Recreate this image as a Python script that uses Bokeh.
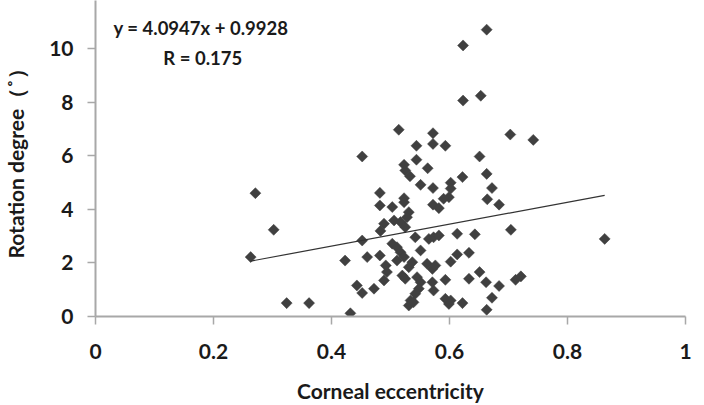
import numpy as np
from bokeh.plotting import figure
from bokeh.models import ColumnDataSource, FixedTicker, Label, Range1d
from bokeh.embed import file_html
from bokeh.resources import INLINE

# Corneal eccentricity vs. rotation degree
ecc = [
    0.263, 0.271, 0.302, 0.324, 0.362, 0.423, 0.432, 0.443, 0.452, 0.452,
    0.452, 0.4605, 0.472,
    0.663, 0.623, 0.623, 0.653, 0.514, 0.572, 0.572, 0.593, 0.544, 0.703,
    0.742, 0.651, 0.544, 0.523, 0.525, 0.533, 0.563, 0.622, 0.663, 0.551,
    0.572, 0.602, 0.602, 0.599, 0.482, 0.672, 0.523, 0.482, 0.503, 0.531,
    0.572, 0.582, 0.590, 0.664, 0.684, 0.523,
    0.489, 0.506, 0.517, 0.528, 0.525, 0.483, 0.542, 0.565, 0.573, 0.582,
    0.613, 0.643, 0.704, 0.863,
    0.503, 0.511, 0.517, 0.523, 0.482, 0.551, 0.602, 0.613, 0.633,
    0.492, 0.494, 0.489, 0.511, 0.537, 0.531, 0.562, 0.571, 0.520, 0.525,
    0.545, 0.551, 0.548, 0.542, 0.571, 0.573, 0.576, 0.593, 0.633, 0.651,
    0.662, 0.684, 0.712, 0.721,
    0.534, 0.531, 0.593, 0.602, 0.599, 0.622, 0.672, 0.663, 0.539,
]
rotation = [
    2.22, 4.61, 3.24, 0.50, 0.50, 2.09, 0.12, 1.16, 0.88, 2.84,
    5.98, 2.22, 1.04,
    10.72, 10.13, 8.07, 8.25, 6.98, 6.85, 6.45, 6.38, 6.38, 6.80,
    6.60, 5.98, 5.86, 5.67, 5.46, 5.24, 5.54, 5.21, 5.33, 4.92,
    4.80, 5.00, 4.78, 4.46, 4.62, 4.80, 4.42, 4.15, 4.09, 3.90,
    4.18, 4.05, 4.40, 4.38, 4.18, 4.27,
    3.47, 3.59, 3.53, 3.71, 3.34, 3.20, 2.96, 2.90, 2.96, 3.03,
    3.09, 3.07, 3.24, 2.90,
    2.72, 2.59, 2.40, 2.22, 2.28, 2.47, 2.05, 2.32, 2.38,
    1.91, 1.66, 1.35, 2.09, 2.03, 1.84, 1.97, 1.78, 1.53, 1.41,
    1.47, 1.28, 1.04, 0.85, 1.28, 0.97, 1.91, 1.37, 1.41, 1.66,
    1.28, 1.14, 1.37, 1.50,
    0.60, 0.41, 0.66, 0.60, 0.47, 0.50, 0.70, 0.25, 0.53,
]

# Linear fit reported on the chart
slope = 4.0947
intercept = 0.9928
r_value = 0.175

x_ticks = [0, 0.2, 0.4, 0.6, 0.8, 1]
y_ticks = [0, 2, 4, 6, 8, 10, 12]

FONT = "Lato"
AXIS_GREY = "#a8a8a8"
MARK = "#404040"
TEXT = "#1a1a1a"

p = figure(
    width=704, height=405,
    x_range=Range1d(0, 1), y_range=Range1d(0, 11.81),
    output_backend="svg", toolbar_location=None,
    min_border_left=95, min_border_right=19,
    min_border_top=0, min_border_bottom=89,
)
p.outline_line_color = None
p.xgrid.visible = False
p.ygrid.visible = False
p.background_fill_color = "white"

for ax in (p.xaxis[0], p.yaxis[0]):
    ax.axis_line_color = AXIS_GREY
    ax.axis_line_width = 2
    ax.major_tick_line_color = AXIS_GREY
    ax.major_tick_line_width = 1.5
    ax.major_tick_in = 0
    ax.major_tick_out = 8
    ax.minor_tick_line_color = None
    ax.major_label_text_font = FONT
    ax.major_label_text_font_style = "bold"
    ax.major_label_text_font_size = "21px"
    ax.major_label_text_color = TEXT
    ax.axis_label_text_font = FONT
    ax.axis_label_text_font_style = "bold"
    ax.axis_label_text_font_size = "21px"
    ax.axis_label_text_color = TEXT

p.xaxis.ticker = FixedTicker(ticks=x_ticks)
p.xaxis.major_label_overrides = {0: "0", 1: "1"}
p.xaxis.major_label_standoff = 19
p.xaxis.axis_label = "Corneal eccentricity"
p.xaxis.axis_label_standoff = 16

p.yaxis.ticker = FixedTicker(ticks=y_ticks)
p.yaxis.major_label_standoff = 14
p.yaxis.axis_label = "Rotation degree（˚）"
p.yaxis.axis_label_standoff = 18

src = ColumnDataSource(dict(x=ecc, y=rotation))
p.scatter("x", "y", source=src, marker="square", size=7.8, angle=np.pi / 4,
          fill_color=MARK, line_color=MARK, line_width=0.5)

x_fit = np.array([min(ecc), max(ecc)])
p.line(x_fit, slope * x_fit + intercept, line_color="#333333", line_width=1.2)

p.add_layout(Label(x=0.0305, y=10.80, text=f"y = {slope}x  + {intercept}",
                   text_font=FONT, text_font_style="bold",
                   text_font_size="18.5px", text_color=TEXT,
                   text_baseline="alphabetic"))
p.add_layout(Label(x=0.115, y=9.645, text=f"R = {r_value}",
                   text_font=FONT, text_font_style="bold",
                   text_font_size="18.5px", text_color=TEXT,
                   text_baseline="alphabetic"))

open("out.html", "w").write(file_html(p, INLINE))
